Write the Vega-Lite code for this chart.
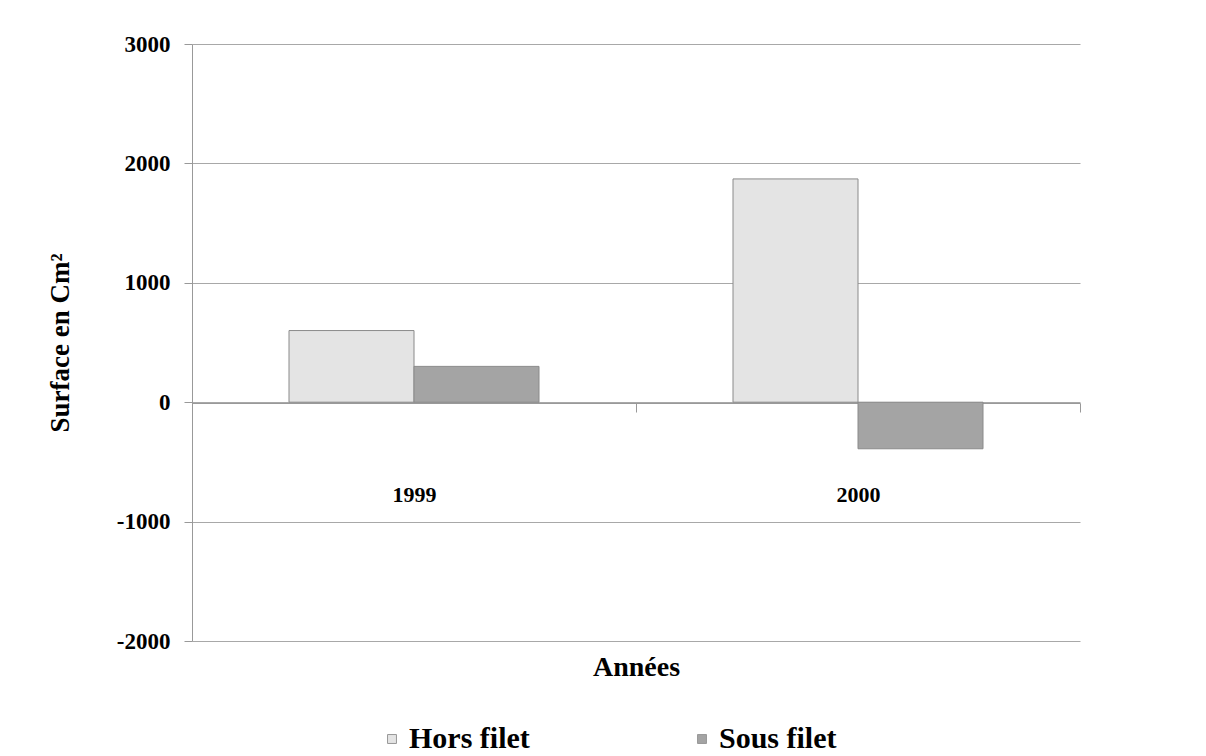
{
  "$schema": "https://vega.github.io/schema/vega-lite/v6.json",
  "width": 888,
  "height": 597,
  "autosize": {"type": "none"},
  "padding": {"left": 192, "top": 44, "right": 126, "bottom": 115},
  "background": "white",
  "config": {
    "view": {"stroke": null},
    "font": "Liberation Serif"
  },
  "data": {
    "values": [
      {"annee": "1999", "serie": "Hors filet", "surface": 600},
      {"annee": "1999", "serie": "Sous filet", "surface": 300},
      {"annee": "2000", "serie": "Hors filet", "surface": 1870},
      {"annee": "2000", "serie": "Sous filet", "surface": -390}
    ]
  },
  "mark": {"type": "bar", "stroke": "#8a8a8a", "strokeWidth": 1},
  "encoding": {
    "x": {
      "field": "annee",
      "type": "nominal",
      "scale": {"paddingInner": 0, "paddingOuter": 0},
      "axis": {
        "title": "Années",
        "titleFont": "Liberation Serif",
        "titleFontWeight": "bold",
        "titleFontSize": 28,
        "titleColor": "#000",
        "titlePadding": 148,
        "labelFont": "Liberation Serif",
        "labelFontWeight": "bold",
        "labelFontSize": 22,
        "labelColor": "#000",
        "labelAngle": 0,
        "labelPadding": 72,
        "tickBand": "extent",
        "tickSize": 9,
        "tickColor": "#999",
        "domainColor": "#999",
        "offset": -238,
        "grid": false
      }
    },
    "xOffset": {
      "field": "serie",
      "type": "nominal",
      "scale": {"paddingInner": 0, "paddingOuter": 0.776}
    },
    "y": {
      "field": "surface",
      "type": "quantitative",
      "scale": {"domain": [-2000, 3000], "nice": false, "zero": false},
      "axis": {
        "title": "Surface en Cm²",
        "titleFont": "Liberation Serif",
        "titleFontWeight": "bold",
        "titleFontSize": 27,
        "titleColor": "#000",
        "titlePadding": 42,
        "values": [-2000, -1000, 0, 1000, 2000, 3000],
        "labelExpr": "'' + datum.value",
        "labelFont": "Liberation Serif",
        "labelFontWeight": "bold",
        "labelFontSize": 23,
        "labelColor": "#000",
        "labelPadding": 14,
        "tickSize": 8,
        "tickColor": "#999",
        "domainColor": "#999",
        "gridColor": "#a8a8a8",
        "gridWidth": 1
      }
    },
    "color": {
      "field": "serie",
      "type": "nominal",
      "scale": {"domain": ["Hors filet", "Sous filet"], "range": ["#e4e4e4", "#a4a4a4"]},
      "legend": {
        "title": null,
        "orient": "none",
        "legendX": 185,
        "legendY": 680,
        "direction": "horizontal",
        "columns": 2,
        "columnPadding": 157,
        "symbolType": "square",
        "symbolSize": 80,
        "symbolStrokeColor": "#999",
        "symbolStrokeWidth": 1,
        "labelFont": "Liberation Serif",
        "labelFontWeight": "bold",
        "labelFontSize": 30,
        "labelColor": "#000",
        "labelOffset": 2,
        "labelLimit": 300
      }
    }
  }
}
